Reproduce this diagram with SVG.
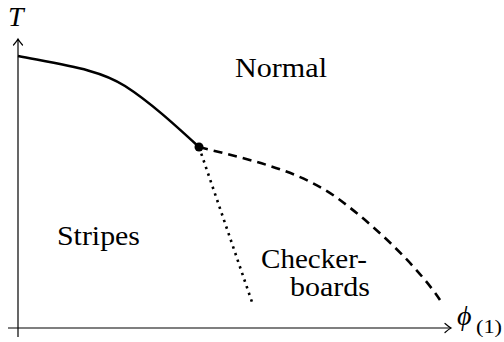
<svg xmlns="http://www.w3.org/2000/svg" width="504" height="342" viewBox="0 0 504 342">
<style>
.i{font-style:italic}
.ax{stroke:#000;stroke-width:1.2;fill:none}
.c{stroke:#000;stroke-width:2.6;fill:none}
</style>
<defs>
<marker id="ar" viewBox="-8 -6 10 12" markerWidth="10" markerHeight="12" refX="0" refY="0" orient="auto" markerUnits="userSpaceOnUse">
<path d="M-6,-4.5 Q-2,-1 0,0 Q-2,1 -6,4.5" fill="none" stroke="#000" stroke-width="1.2" stroke-linecap="round"/>
</marker>
</defs>
<g id="axes">
<line class="ax" x1="8" y1="328" x2="451" y2="328" marker-end="url(#ar)"/>
<line class="ax" x1="18" y1="337" x2="18" y2="39" marker-end="url(#ar)"/>
</g>
<g id="connectors">
<path class="c" d="M18,56 C70,66 100,70 125,86 C150,102 175,125 199,147"/>
<path class="c" d="M199,147 C250,160 300,170 340,200 S420,270 440,300" stroke-dasharray="9 6"/>
<path class="c" d="M199,147 L253,305" stroke-dasharray="2.4 4.6"/>
</g>
<g id="point"><circle cx="199" cy="147" r="4.5" fill="#000"/></g>
<g font-family="Liberation Serif, DejaVu Serif, serif" font-size="28" fill="#000">
<g id="label-T"><text class="i" x="8" y="26">T</text></g>
<g id="label-phi"><text class="i" x="457" y="325">ϕ</text><text font-size="19" x="476" y="333" textLength="26" lengthAdjust="spacingAndGlyphs">(1)</text></g>
<g id="normal"><text x="235" y="77" textLength="92" lengthAdjust="spacingAndGlyphs">Normal</text></g>
<g id="stripes"><text x="57" y="245" textLength="83" lengthAdjust="spacingAndGlyphs">Stripes</text></g>
<g id="checkerboards">
<text x="261" y="268" textLength="106" lengthAdjust="spacingAndGlyphs">Checker-</text>
<text x="290" y="296" textLength="80" lengthAdjust="spacingAndGlyphs">boards</text>
</g>
</g>
</svg>
